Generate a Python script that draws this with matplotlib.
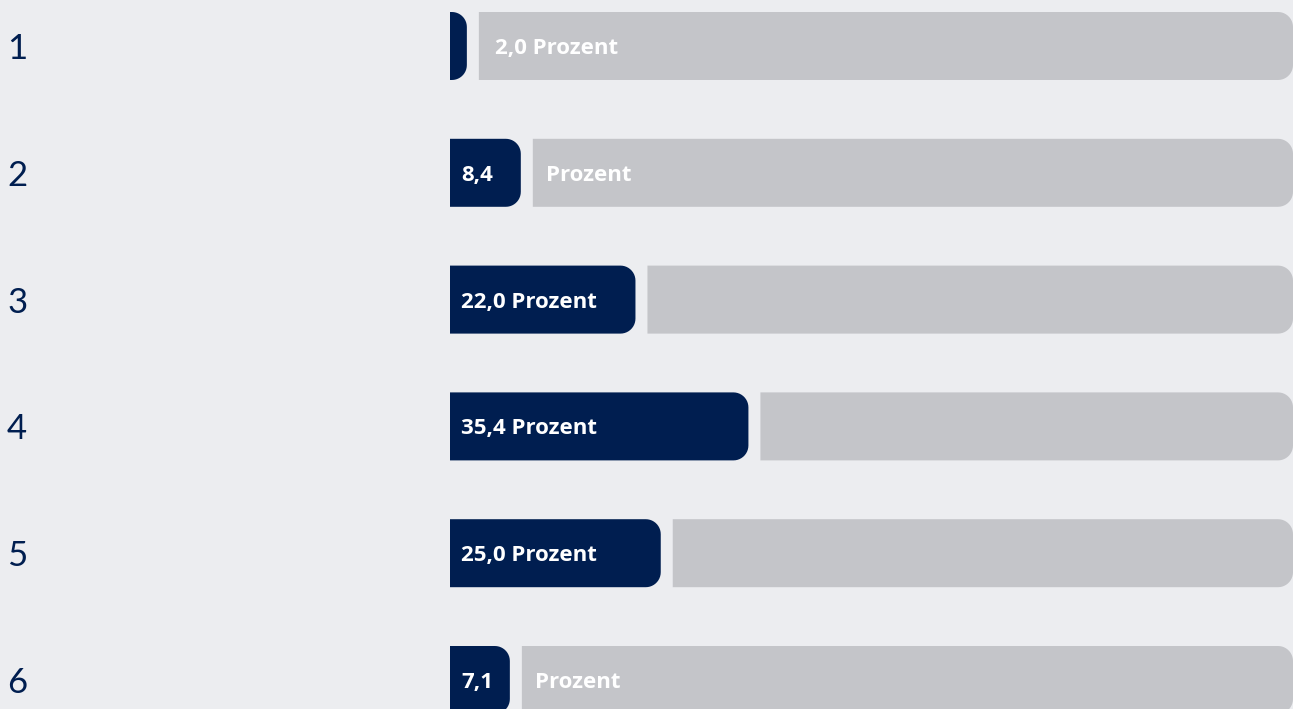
import matplotlib
matplotlib.use("Agg")
import matplotlib.pyplot as plt
import numpy as np
from matplotlib.patches import Polygon

# data
rows = ["1", "2", "3", "4", "5", "6"]
values = [2.0, 8.4, 22.0, 35.4, 25.0, 7.1]
# label mode: 'out' = all in grey part, 'split' = number in navy, word in grey, 'in' = all in navy
modes = ["out", "split", "in", "in", "in", "split"]

navy = "#001E50"
grey = "#C4C5C9"
bg = "#ECEDF0"

W, H = 1293, 709
px_x = 843 / 100.0          # pixels per percent
left_px = 450
row_px = 126.8
top_px = 46

fig = plt.figure(figsize=(W / 100, H / 100), dpi=100, facecolor=bg)
ax = fig.add_axes([0, 0, 1, 1])
ax.set_facecolor(bg)
ax.set_xlim(-left_px / px_x, (W - left_px) / px_x)
ax.set_ylim((H - top_px) / row_px, -top_px / row_px)
ax.axis("off")

rx = 15 / px_x
ry = 15 / row_px
gap = 12 / px_x
bh = 68 / row_px


def right_round(x0, x1, yc, h, color):
    # rectangle with rounded corners on the right side only
    r_x = min(rx, x1 - x0)
    y0, y1 = yc - h / 2, yc + h / 2
    t = np.linspace(0, np.pi / 2, 12)
    pts = [(x0, y0), (x1 - r_x, y0)]
    pts += [(x1 - r_x + r_x * np.sin(a), y0 + ry - ry * np.cos(a)) for a in t]
    pts += [(x1 - r_x + r_x * np.cos(a), y1 - ry + ry * np.sin(a)) for a in t]
    pts += [(x1 - r_x, y1), (x0, y1)]
    ax.add_patch(Polygon(pts, closed=True, facecolor=color, edgecolor="none"))


tfont = dict(family=["Open Sans", "DejaVu Sans"], weight="bold", size=16, color="white",
             va="baseline", ha="left")
tdy = 8 / row_px

for i, (lab, v, m) in enumerate(zip(rows, values, modes)):
    ax.text(-left_px / px_x + 7 / px_x, i + 13 / row_px, lab, family=["Lato", "DejaVu Sans"],
            weight="normal", size=25, color=navy, va="baseline", ha="left")
    right_round(0, v, i, bh, navy)
    right_round(v + gap, 100, i, bh, grey)
    txt = "%.1f" % v
    txt = txt.replace(".", ",")
    if m == "in":
        ax.text(11 / px_x, i + tdy, txt + " Prozent", **tfont)
    elif m == "split":
        ax.text(11 / px_x, i + tdy, txt, **tfont)
        ax.text(v + gap + 13 / px_x, i + tdy, "Prozent", **tfont)
    else:
        ax.text(v + gap + 16 / px_x, i + tdy, txt + " Prozent", **tfont)

fig.savefig("out.png", dpi=100, facecolor=bg)
